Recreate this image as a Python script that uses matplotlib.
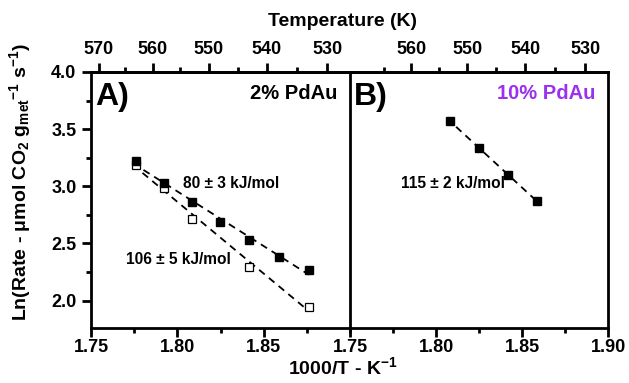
import numpy as np
import matplotlib
matplotlib.use("Agg")
import matplotlib.pyplot as plt
from matplotlib.ticker import MultipleLocator, FixedLocator

plt.rcParams['font.family'] = ['Liberation Sans', 'DejaVu Sans']
plt.rcParams['font.weight'] = 'bold'
plt.rcParams['mathtext.fontset'] = 'custom'
plt.rcParams['mathtext.rm'] = 'Liberation Sans:bold'
plt.rcParams['mathtext.it'] = 'Liberation Sans:bold'
plt.rcParams['mathtext.bf'] = 'Liberation Sans:bold'
plt.rcParams['mathtext.default'] = 'rm'

# Panel A, 2% PdAu
a_filled_x = [1.7762, 1.7921, 1.8083, 1.8248, 1.8416, 1.8587, 1.8762]
a_filled_y = [3.22, 3.03, 2.86, 2.69, 2.53, 2.385, 2.27]
a_open_x = [1.7762, 1.7921, 1.8083, 1.8416, 1.8762]
a_open_y = [3.19, 2.985, 2.715, 2.298, 1.947]
# Panel B, 10% PdAu
b_x = [1.8083, 1.8248, 1.8416, 1.8587]
b_y = [3.57, 3.336, 3.103, 2.871]

labels_a = ["80 ± 3 kJ/mol", "106 ± 5 kJ/mol"]
label_b = "115 ± 2 kJ/mol"

W, H = 629, 383
fig = plt.figure(figsize=(W/100, H/100), dpi=100)
x0, x1, x2 = 91, 350, 608
yt, yb = 72, 328
axA = fig.add_axes([x0/W, 1-yb/H, (x1-x0)/W, (yb-yt)/H])
axB = fig.add_axes([x1/W, 1-yb/H, (x2-x1)/W, (yb-yt)/H])

def inv(x):
    x = np.asarray(x, dtype=float)
    with np.errstate(divide='ignore'):
        return 1000.0/x

TL = 13
MAJ, MIN = 6.5, 3.5

def style(ax, top_major, top_minor, xticks):
    ax.set_xlim(1.75, 1.90)
    ax.set_ylim(1.76, 4.0)
    for s in ax.spines.values():
        s.set_linewidth(2)
    ax.xaxis.set_major_locator(FixedLocator(xticks))
    ax.xaxis.set_minor_locator(MultipleLocator(0.025))
    ax.yaxis.set_major_locator(MultipleLocator(0.5))
    ax.yaxis.set_minor_locator(MultipleLocator(0.25))
    ax.tick_params(axis='x', which='major', direction='out', length=MAJ, width=2,
                   labelsize=TL, pad=1.5, top=False)
    ax.tick_params(axis='x', which='minor', direction='out', length=MIN, width=2, top=False)
    ax.tick_params(axis='y', which='major', direction='out', length=MAJ, width=2,
                   labelsize=TL, pad=4, right=False)
    ax.tick_params(axis='y', which='minor', direction='out', length=MIN, width=2, right=False)
    sec = ax.secondary_xaxis('top', functions=(inv, inv))
    sec.xaxis.set_major_locator(FixedLocator(top_major))
    sec.xaxis.set_minor_locator(FixedLocator(top_minor))
    sec.tick_params(which='major', direction='out', length=MAJ, width=2, labelsize=TL, pad=3.5)
    sec.tick_params(which='minor', direction='out', length=MIN, width=2)
    sec.spines['top'].set_linewidth(2)
    return sec

secA = style(axA, [570, 560, 550, 540, 530], [565, 555, 545, 535], [1.75, 1.80, 1.85])
secB = style(axB, [560, 550, 540, 530], [565, 555, 545, 535], [1.75, 1.80, 1.85, 1.90])
axB.tick_params(axis='y', which='both', left=False, labelleft=False)
axA.spines['right'].set_visible(False)
axB.set_facecolor('none')

def fit(ax, xs, ys):
    p = np.polyfit(xs, ys, 1)
    xx = np.array([min(xs) - 0.002, max(xs)])
    ax.plot(xx, np.polyval(p, xx), ls=(0, (4, 3)), color='black', lw=1.3, zorder=2)

fit(axA, a_filled_x, a_filled_y)
fit(axA, a_open_x, a_open_y)
fit(axB, b_x, b_y)
axA.plot(a_open_x, a_open_y, ls='none', marker='s', ms=6, mfc='white', mec='black', mew=0.9, zorder=3)
axA.plot(a_filled_x, a_filled_y, ls='none', marker='s', ms=6, mfc='black', mec='black', zorder=4)
axB.plot(b_x, b_y, ls='none', marker='s', ms=6, mfc='black', mec='black', zorder=4)

axA.text(1.8035, 3.025, labels_a[0], fontsize=11.2, fontweight='bold', va='center', ha='left')
axA.text(1.7702, 2.36, labels_a[1], fontsize=11.2, fontweight='bold', va='center', ha='left')
axB.text(1.7795, 3.025, label_b, fontsize=11.2, fontweight='bold', va='center', ha='left')

axA.text(0.015, 0.96, "A)", transform=axA.transAxes, fontsize=23, fontweight='bold', va='top', ha='left')
axB.text(0.015, 0.96, "B)", transform=axB.transAxes, fontsize=23, fontweight='bold', va='top', ha='left')
axA.text(0.95, 0.955, "2% PdAu", transform=axA.transAxes, fontsize=14.5, fontweight='bold', va='top', ha='right')
axB.text(0.95, 0.955, "10% PdAu", transform=axB.transAxes, fontsize=14.5, fontweight='bold', va='top', ha='right', color='#9b30f0')

fig.text(343/W, 1-367/H, "1000/T - K$^{-1}$", fontsize=14, fontweight='bold', ha='center', va='center')
fig.text(343/W, 1-22/H, "Temperature (K)", fontsize=14, fontweight='bold', ha='center', va='center')
fig.text(20/W, 1-182/H, "Ln(Rate - μmol CO$_2$ g$_{met}$$^{-1}$ s$^{-1}$)", fontsize=14,
         fontweight='bold', rotation=90, ha='center', va='center')

fig.savefig("out.png", dpi=100)
